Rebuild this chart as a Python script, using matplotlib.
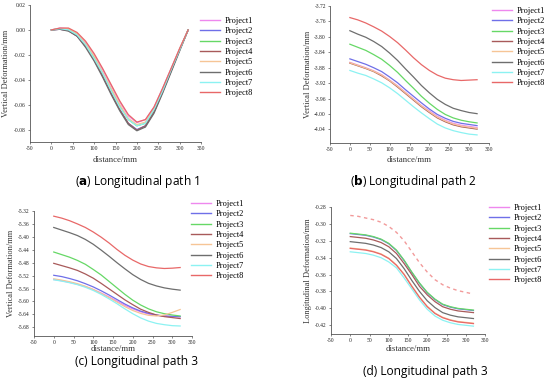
import matplotlib
matplotlib.use('Agg')
import matplotlib.pyplot as plt
from matplotlib.lines import Line2D

# distance along path (mm)
dist = [0, 20, 40, 60, 80, 100, 120, 140, 160, 180, 200, 220, 240, 260, 280, 300, 320]
projects = ['Project1', 'Project2', 'Project3', 'Project4',
            'Project5', 'Project6', 'Project7', 'Project8']
colors = ['#ee88ee', '#6f6fe8', '#66d866', '#a85a5a',
          '#f6c596', '#6e6e6e', '#8cf2f2', '#e86868']

# (a) Longitudinal path 1, vertical deformation (mm)
path1 = [
    [0, 0.0015, 0.001, -0.003, -0.010, -0.020, -0.032, -0.045, -0.058, -0.069, -0.0745, -0.072, -0.062, -0.047, -0.031, -0.015, 0],
    [0, 0.0005, -0.0005, -0.005, -0.013, -0.024, -0.037, -0.051, -0.064, -0.075, -0.080, -0.077, -0.066, -0.050, -0.033, -0.016, 0],
    [0, 0.001, 0.0, -0.004, -0.012, -0.022, -0.035, -0.048, -0.061, -0.072, -0.077, -0.075, -0.064, -0.048, -0.032, -0.016, 0],
    [0, 0.0005, -0.0005, -0.005, -0.013, -0.024, -0.037, -0.051, -0.064, -0.075, -0.0805, -0.077, -0.066, -0.050, -0.033, -0.016, 0],
    [0, 0.001, 0.001, -0.003, -0.011, -0.021, -0.034, -0.047, -0.060, -0.071, -0.076, -0.074, -0.063, -0.048, -0.032, -0.015, 0],
    [0, 0.0005, -0.001, -0.005, -0.014, -0.025, -0.038, -0.052, -0.065, -0.076, -0.081, -0.078, -0.067, -0.051, -0.034, -0.017, 0],
    [0, 0.001, 0.0, -0.004, -0.012, -0.023, -0.035, -0.049, -0.062, -0.072, -0.077, -0.075, -0.064, -0.049, -0.032, -0.016, 0],
    [0, 0.0015, 0.0015, -0.002, -0.009, -0.019, -0.031, -0.044, -0.057, -0.068, -0.074, -0.072, -0.062, -0.047, -0.031, -0.015, 0],
]

# (b) Longitudinal path 2, vertical deformation (mm)
path2 = [
    [-3.866, -3.873, -3.880, -3.888, -3.898, -3.912, -3.927, -3.944, -3.961, -3.978, -3.992, -4.006, -4.016, -4.024, -4.029, -4.032, -4.035],
    [-3.857, -3.864, -3.871, -3.880, -3.890, -3.904, -3.919, -3.937, -3.954, -3.971, -3.987, -4.001, -4.011, -4.019, -4.024, -4.027, -4.030],
    [-3.819, -3.827, -3.835, -3.846, -3.858, -3.874, -3.892, -3.913, -3.933, -3.954, -3.972, -3.988, -4.001, -4.010, -4.016, -4.020, -4.023],
    [-3.868, -3.875, -3.882, -3.890, -3.901, -3.914, -3.930, -3.947, -3.964, -3.981, -3.996, -4.010, -4.020, -4.028, -4.033, -4.036, -4.039],
    [-3.867, -3.874, -3.881, -3.889, -3.899, -3.913, -3.928, -3.945, -3.962, -3.979, -3.994, -4.008, -4.018, -4.026, -4.031, -4.034, -4.037],
    [-3.784, -3.793, -3.801, -3.812, -3.825, -3.842, -3.861, -3.883, -3.904, -3.926, -3.945, -3.962, -3.975, -3.985, -3.991, -3.996, -3.999],
    [-3.887, -3.894, -3.900, -3.909, -3.919, -3.932, -3.947, -3.964, -3.981, -3.997, -4.012, -4.026, -4.036, -4.043, -4.048, -4.052, -4.054],
    [-3.750, -3.756, -3.764, -3.774, -3.785, -3.799, -3.815, -3.834, -3.854, -3.872, -3.887, -3.899, -3.907, -3.911, -3.913, -3.912, -3.911],
]

# (c) Longitudinal path 3, vertical deformation (mm)
path3_v = [
    [-5.532, -5.536, -5.541, -5.547, -5.554, -5.563, -5.574, -5.586, -5.599, -5.612, -5.623, -5.632, -5.639, -5.643, -5.646, -5.647, -5.648],
    [-5.519, -5.523, -5.529, -5.536, -5.545, -5.555, -5.567, -5.580, -5.594, -5.608, -5.620, -5.630, -5.637, -5.642, -5.645, -5.646, -5.647],
    [-5.447, -5.455, -5.463, -5.473, -5.485, -5.501, -5.518, -5.538, -5.558, -5.578, -5.596, -5.611, -5.623, -5.632, -5.638, -5.642, -5.645],
    [-5.482, -5.489, -5.496, -5.504, -5.515, -5.528, -5.544, -5.561, -5.578, -5.595, -5.610, -5.624, -5.634, -5.642, -5.647, -5.650, -5.653],
    [-5.530, -5.534, -5.539, -5.545, -5.553, -5.563, -5.575, -5.588, -5.602, -5.616, -5.628, -5.637, -5.643, -5.645, -5.642, -5.634, -5.625],
    [-5.371, -5.379, -5.387, -5.396, -5.408, -5.423, -5.441, -5.460, -5.480, -5.499, -5.517, -5.532, -5.544, -5.552, -5.558, -5.562, -5.565],
    [-5.533, -5.537, -5.542, -5.548, -5.556, -5.566, -5.578, -5.592, -5.607, -5.623, -5.638, -5.651, -5.661, -5.668, -5.672, -5.675, -5.676],
    [-5.336, -5.342, -5.350, -5.360, -5.371, -5.385, -5.401, -5.419, -5.439, -5.457, -5.472, -5.484, -5.492, -5.496, -5.498, -5.497, -5.495],
]

# (d) Longitudinal path 3, longitudinal deformation (mm)
path3_l = [
    [-0.290, -0.291, -0.293, -0.295, -0.298, -0.303, -0.310, -0.320, -0.333, -0.346, -0.357, -0.366, -0.372, -0.376, -0.379, -0.381, -0.383],
    [-0.3115, -0.3125, -0.3135, -0.3155, -0.3185, -0.3235, -0.3315, -0.3435, -0.3575, -0.3705, -0.3815, -0.3895, -0.3955, -0.3985, -0.4005, -0.4015, -0.4025],
    [-0.311, -0.312, -0.313, -0.315, -0.318, -0.323, -0.331, -0.343, -0.357, -0.370, -0.381, -0.389, -0.395, -0.398, -0.400, -0.401, -0.402],
    [-0.315, -0.316, -0.317, -0.319, -0.322, -0.327, -0.335, -0.347, -0.360, -0.374, -0.384, -0.392, -0.398, -0.401, -0.403, -0.404, -0.405],
    [-0.3285, -0.3295, -0.3305, -0.3325, -0.3355, -0.3405, -0.3485, -0.3595, -0.3735, -0.3865, -0.3975, -0.4055, -0.4105, -0.4135, -0.4155, -0.4165, -0.4175],
    [-0.321, -0.322, -0.323, -0.325, -0.328, -0.333, -0.341, -0.353, -0.367, -0.380, -0.391, -0.399, -0.405, -0.408, -0.410, -0.411, -0.412],
    [-0.333, -0.334, -0.335, -0.337, -0.340, -0.345, -0.352, -0.364, -0.377, -0.390, -0.401, -0.409, -0.414, -0.417, -0.419, -0.420, -0.421],
    [-0.329, -0.330, -0.331, -0.333, -0.336, -0.341, -0.349, -0.360, -0.374, -0.387, -0.398, -0.406, -0.411, -0.414, -0.416, -0.417, -0.418],
]

yticks_a = [-0.08, -0.06, -0.04, -0.02, 0.00, 0.02]
yticks_b = [-4.04, -4.00, -3.96, -3.92, -3.88, -3.84, -3.80, -3.76, -3.72]
yticks_c = [-5.68, -5.64, -5.60, -5.56, -5.52, -5.48, -5.44, -5.40, -5.36, -5.32]
yticks_d = [-0.42, -0.40, -0.38, -0.36, -0.34, -0.32, -0.30, -0.28]
xticks = [-50, 0, 50, 100, 150, 200, 250, 300, 350]

W, H = 550, 381
fig = plt.figure(figsize=(W / 100, H / 100), dpi=100)
serif = 'Liberation Serif'


def px_axes(l, t, r, b):
    return fig.add_axes([l / W, 1 - b / H, (r - l) / W, (b - t) / H])


panels = [
    # box (l, t, r, b), data, yticks, ylim, ylabel, ylabel x, xlabel y, legend (x, y)
    ((30, 5, 201, 142), path1, yticks_a, (-0.09, 0.02), 'Vertical Deformation/mm', 6, 160, (200, 17)),
    ((330, 6, 489, 143), path2, yticks_b, (-4.075, -3.72), 'Vertical Deformation/mm', 308, 160, (492, 7)),
    ((34, 211, 192, 336), path3_v, yticks_c, (-5.707, -5.32), 'Vertical Deformation/mm', 11, 349, (191, 200)),
    ((331, 207, 485, 334), path3_l, yticks_d, (-0.4303, -0.28), 'Longitudinal Deformation/mm', 308, 349, (489, 204)),
]

for box, data, yt, yl, lab, lx, xly, leg in panels:
    ax = px_axes(*box)
    dashed = data is path3_l
    for i, ys in enumerate(data):
        if dashed and i == 0:
            ax.plot(dist, ys, color='#f29a9a', lw=1.0, ls=(0, (2.5, 2.5)))
        else:
            ax.plot(dist, ys, color=colors[i], lw=0.9)
    ax.set_xlim(-50, 350)
    ax.set_ylim(*yl)
    ax.set_xticks(xticks)
    ax.set_yticks(yt)
    ax.set_xticklabels([str(v) for v in xticks], fontsize=4.0, family=serif)
    ax.set_yticklabels(['{:.2f}'.format(v) for v in yt], fontsize=4.0, family=serif)
    ax.tick_params(length=1.5, width=0.5, pad=1.5, color='#555555', labelcolor='#222222')
    for s in ['top', 'right']:
        ax.spines[s].set_visible(False)
    for s in ['left', 'bottom']:
        ax.spines[s].set_linewidth(0.6)
        ax.spines[s].set_color('#555555')
    fig.text(lx / W, 1 - (box[1] + box[3]) / 2 / H, lab, rotation=90,
             ha='center', va='center', fontsize=6.0, family=serif, color='#333333')
    fig.text((box[0] + box[2]) / 2 / W, 1 - xly / H, 'distance/mm',
             ha='center', va='center', fontsize=6.3, family=serif, color='#333333')
    handles = [Line2D([], [], color=colors[i], lw=1.0) for i in range(len(projects))]
    fig.legend(handles, projects, loc='upper left',
               bbox_to_anchor=(leg[0] / W, 1 - leg[1] / H),
               frameon=False, prop={'family': serif, 'size': 6.0},
               handlelength=2.4, handletextpad=0.6, labelspacing=0.28,
               borderpad=0, borderaxespad=0)

# panel captions
fig.text(137 / W, 1 - 182 / H, r'($\mathbf{a}$) Longitudinal path 1', ha='center', va='center', fontsize=8.6, family='Open Sans')
fig.text(413 / W, 1 - 182 / H, r'($\mathbf{b}$) Longitudinal path 2', ha='center', va='center', fontsize=8.6, family='Open Sans')
fig.text(137 / W, 1 - 362 / H, '(c) Longitudinal path 3', ha='center', va='center', fontsize=8.6, family='Open Sans')
fig.text(425 / W, 1 - 372 / H, '(d) Longitudinal path 3', ha='center', va='center', fontsize=8.6, family='Open Sans')

fig.savefig('out.png', dpi=100)
